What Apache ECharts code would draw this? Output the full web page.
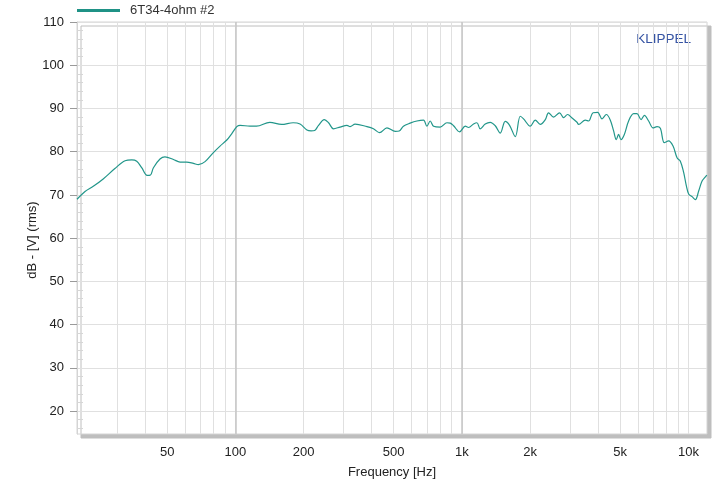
<!DOCTYPE html>
<html>
<head>
<meta charset="utf-8">
<script src="https://cdn.jsdelivr.net/npm/echarts@6/dist/echarts.min.js"></script>
<style>
html,body{margin:0;padding:0;background:#fff;}
#c{width:718px;height:484px;}
</style>
</head>
<body>
<div id="c"></div>
<script>
// Frequency (Hz) and level (dB)
const freqHz = [20,21.7,23.6,26.1,29.4,32.6,34.9,36.7,38.6,40.8,42.2,43.5,46.5,48.9,53.3,57.0,61.0,65.3,68.7,73.5,80.0,85.6,91.7,96.5,101.5,105,116,124,142,160,180,193,207,216,224,233,247,258,271,290,311,321,338,381,407,433,467,508,529,552,591,633,677,701,725,750,802,859,889,919,977,1035,1070,1126,1166,1205,1268,1334,1404,1477,1554,1624,1721,1810,1872,2004,2108,2218,2334,2413,2539,2700,2812,2929,3063,3223,3276,3507,3626,3792,3974,4156,4343,4522,4676,4806,4919,5040,5214,5446,5732,5933,6181,6391,6676,6980,7270,7518,7830,8179,8554,8910,9214,9528,9794,10026,10378,10733,11100,11490,11882,12063];
const levelDb = [69.0,70.8,72.0,73.7,76.1,77.9,78.1,77.8,76.3,74.5,74.6,76.3,78.3,78.8,78.2,77.6,77.6,77.3,77.0,77.7,79.8,81.3,82.7,84.2,85.8,86.1,85.9,85.9,86.8,86.3,86.7,86.4,85.0,84.8,84.9,86.1,87.4,86.7,85.3,85.7,86.1,85.8,86.4,85.8,85.3,84.4,85.5,84.7,84.8,85.9,86.6,87.1,87.3,85.9,87.1,85.9,85.7,86.7,86.6,86.0,84.6,85.9,85.6,86.4,86.7,85.3,86.4,86.8,86.0,84.3,87.0,86.1,83.5,88.2,87.6,85.9,87.3,86.3,87.4,89.0,88.0,89.0,87.9,88.6,87.8,86.8,86.3,87.3,87.1,89.0,89.1,87.6,88.6,87.3,84.8,82.8,84.0,82.8,84.0,87.1,88.8,88.8,87.4,88.4,87.1,85.5,85.8,85.4,82.1,82.5,81.3,78.6,77.8,75.2,72.1,70.2,69.6,68.9,70.9,73.2,74.2,74.6];

const seriesName = '6T34-4ohm #2';
const xGridValues = [30,40,50,60,70,80,90,100,200,300,400,500,600,700,800,900,1000,2000,3000,4000,5000,6000,7000,8000,9000,10000];
const xLabelValues = [50,100,200,500,1000,2000,5000,10000];
const xStrongLines = [100,1000];
const yMajorValues = [20,30,40,50,60,70,80,90,100,110];
const yMinorValues = [16,18,22,24,26,28,32,34,36,38,42,44,46,48,52,54,56,58,62,64,66,68,72,74,76,78,82,84,86,88,92,94,96,98,102,104,106,108];
const xMin = 20, xMax = 12080, yMin = 14.7, yMax = 110;

const FONT = 'Liberation Sans, Arial, sans-serif';
const chart = echarts.init(document.getElementById('c'));
const points = freqHz.map((f, i) => [f, levelDb[i]]);

chart.setOption({
  animation: false,
  backgroundColor: '#fff',
  textStyle: { fontFamily: FONT },
  grid: {
    left: 77, top: 22, right: 11, bottom: 48,
    show: true, backgroundColor: '#fff', borderColor: '#d4d4d4', borderWidth: 1,
    shadowColor: '#bebebe', shadowBlur: 0, shadowOffsetX: 4, shadowOffsetY: 4
  },
  legend: {
    left: 77, top: 4, padding: 0,
    itemWidth: 43, itemHeight: 3, icon: 'rect',
    textStyle: { fontSize: 13, color: '#333', fontFamily: FONT, padding: [0, 0, 0, 5] },
    data: [seriesName]
  },
  graphic: [{
    type: 'text', right: 27, top: 32,
    style: { text: 'KLIPPEL', font: '13.5px ' + FONT, fill: '#3553a3' }
  }],
  xAxis: {
    type: 'log', logBase: 10, min: xMin, max: xMax,
    name: 'Frequency [Hz]', nameLocation: 'middle', nameGap: 32, nameMoveOverlap: false,
    nameTextStyle: { fontSize: 13, color: '#222', fontFamily: FONT },
    axisLine: { show: false },
    axisTick: { show: false, customValues: xGridValues },
    axisLabel: {
      customValues: xLabelValues, margin: 12, fontSize: 13, color: '#222', fontFamily: FONT,
      formatter: v => v >= 1000 ? (v / 1000) + 'k' : String(v)
    },
    splitLine: { show: true, lineStyle: { color: '#e0e0e0', width: 1 } },
    minorTick: { show: false }, minorSplitLine: { show: false }
  },
  yAxis: [{
    type: 'value', min: yMin, max: yMax,
    name: 'dB - [V] (rms)', nameLocation: 'middle', nameGap: 38, nameRotate: 90, nameMoveOverlap: false,
    nameTextStyle: { fontSize: 13, color: '#222', fontFamily: FONT, padding: [0, 24, 0, 0] },
    axisLine: { show: true, lineStyle: { color: '#d4d4d4' } },
    axisTick: { show: true, length: 7, inside: false, customValues: yMajorValues, lineStyle: { color: '#9a9a9a' } },
    axisLabel: { customValues: yMajorValues, margin: 13, fontSize: 13, color: '#222', fontFamily: FONT },
    splitLine: { show: true, lineStyle: { color: '#e0e0e0', width: 1 } }
  }, {
    type: 'value', min: yMin, max: yMax, position: 'left', offset: 0,
    axisLine: { show: false },
    axisTick: { show: true, inside: true, length: 6, customValues: yMinorValues, lineStyle: { color: '#d6d6d6' } },
    axisLabel: { show: false },
    splitLine: { show: false }
  }],
  series: [{
    name: seriesName, type: 'line', data: points, yAxisIndex: 0,
    showSymbol: false, symbol: 'none', smooth: 0.35, z: 3,
    color: '#1f9286',
    lineStyle: { width: 1.2, color: '#22968a' },
    markLine: {
      silent: true, symbol: 'none', z: 1, animation: false,
      label: { show: false },
      lineStyle: { color: '#c6c6c6', width: 1.5, type: 'solid' },
      data: xStrongLines.map(v => ({ xAxis: v }))
    }
  }]
});
</script>
</body>
</html>
